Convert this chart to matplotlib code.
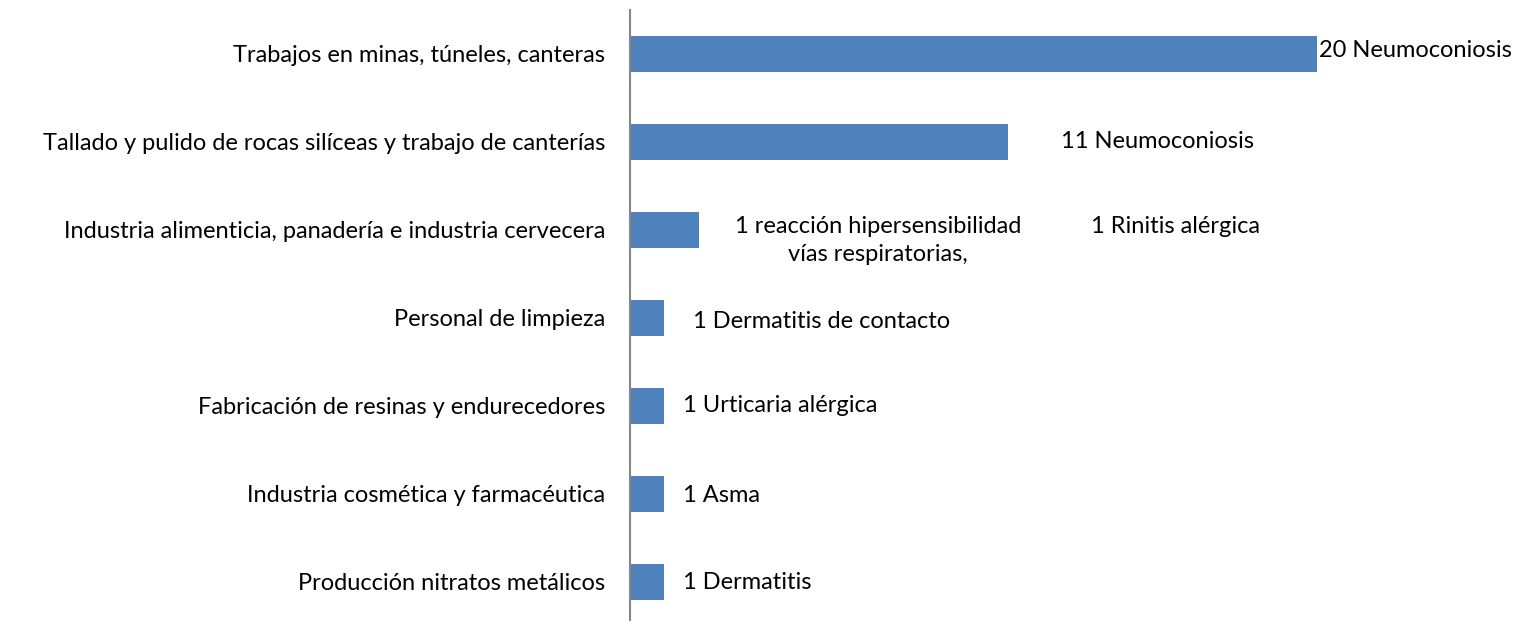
import matplotlib
matplotlib.use("Agg")
import matplotlib.pyplot as plt

categories = [
    "Trabajos en minas, túneles, canteras",
    "Tallado y pulido de rocas silíceas y trabajo de canterías",
    "Industria alimenticia, panadería e industria cervecera",
    "Personal de limpieza",
    "Fabricación de resinas y endurecedores",
    "Industria cosmética y farmacéutica",
    "Producción nitratos metálicos",
]
values = [20, 11, 2, 1, 1, 1, 1]
labels = [
    ["20 Neumoconiosis"],
    ["11 Neumoconiosis"],
    ["1 reacción hipersensibilidad\nvías respiratorias,", "1 Rinitis alérgica"],
    ["1 Dermatitis de contacto"],
    ["1 Urticaria alérgica"],
    ["1 Asma"],
    ["1 Dermatitis"],
]
# label placement (data x, horizontal alignment, vertical offset in rows)
label_pos = [
    [(20.05, "left", -0.045)],
    [(15.37, "center", 0.0)],
    [(7.22, "center", 0.115), (15.87, "center", -0.045)],
    [(1.83, "left", 0.045)],
    [(1.54, "left", 0.0)],
    [(1.54, "left", 0.02)],
    [(1.54, "left", 0.01)],
]

plt.rcParams["font.family"] = ["Lato", "DejaVu Sans"]
FS = 17

fig = plt.figure(figsize=(15.24, 6.21), dpi=100)
ax = fig.add_axes([630 / 1524, 0, 1 - 630 / 1524, 1 - 10 / 621])

ypos = list(range(len(categories)))
ax.barh(ypos, values, height=0.4, color="#4F81BD", edgecolor="none")
ax.set_xlim(0, (1524 - 630) / 34.35)
ax.set_ylim((621 - 54) / 88, -0.5)
ax.set_yticks(ypos)
ax.set_yticklabels(categories, fontsize=FS, color="#000000")
ax.tick_params(axis="y", length=0, pad=18)
ax.set_xticks([])
for s in ["top", "right", "bottom"]:
    ax.spines[s].set_visible(False)
ax.spines["left"].set_color("#868686")
ax.spines["left"].set_linewidth(1.5)

for i, (labs, poss) in enumerate(zip(labels, label_pos)):
    for lab, (x, ha, dy) in zip(labs, poss):
        ax.text(x, i + dy, lab, ha=ha, va="center", fontsize=FS,
                color="#000000", linespacing=1.42)

fig.savefig("out.png", dpi=100)
